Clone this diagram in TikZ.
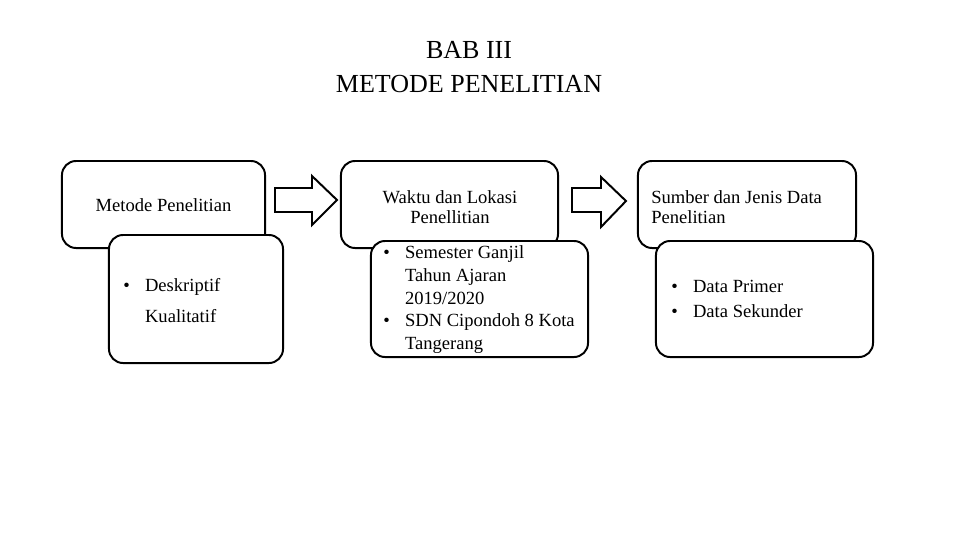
\documentclass[tikz,border=0pt]{standalone}
\usepackage{fontspec}
\setmainfont{Liberation Serif}
\newcommand{\dotitem}[1]{\makebox[15.5pt][l]{\textbullet}#1}
\newcommand{\nodotitem}[1]{\makebox[15.5pt][l]{}#1}
\newcommand{\itemlist}[1]{%
  \begin{tabular}{@{}l@{}}
    #1
  \end{tabular}
}
\begin{document}
\begin{tikzpicture}[
      x=0.025cm, y=-0.025cm,
      every node/.style={inner sep=0pt,font=\fontsize{13.2}{16.2}\selectfont},
      box/.style={draw,line width=1.4pt,rounded corners=10pt,fill=white},
      blockarrow/.style={draw,line width=1.4pt,line join=miter}
    ]
      \useasboundingbox (0,0) rectangle (960,540);

      % Title
      \node[align=center,font=\fontsize{18.5}{24}\selectfont] (title) at (469,67)
        {BAB III\\METODE PENELITIAN};

      % Upper boxes
      \node[box,minimum width=5.075cm,minimum height=2.175cm] (metode) at (163.5,204.5) {};
      \node[box,minimum width=5.425cm,minimum height=2.175cm] (waktu) at (449.5,204.5) {};
      \node[box,minimum width=5.45cm,minimum height=2.175cm] (sumber) at (747,204.5) {};

      % Lower boxes, drawn over the upper ones
      \node[box,minimum width=4.35cm,minimum height=3.2cm] (metodeisi) at (196,299) {};
      \node[box,minimum width=5.425cm,minimum height=2.9cm] (waktuisi) at (479.5,299) {};
      \node[box,minimum width=5.425cm,minimum height=2.9cm] (sumberisi) at (764.5,299) {};

      % Block arrows between the columns
      \draw[blockarrow] (275,188) -- (312,188) -- (312,176) -- (337,200)
        -- (312,225) -- (312,212) -- (275,212) -- cycle;
      \draw[blockarrow] (572,188) -- (601,188) -- (601,177) -- (626,201)
        -- (601,227) -- (601,212) -- (572,212) -- cycle;

      % Texts
      \node (metodetext) at (163.5,205) {Metode Penelitian};
      \node[align=center,font=\fontsize{13.2}{14.5}\selectfont] (waktutext) at (450,207)
        {Waktu dan Lokasi\\Penellitian};
      \node[anchor=west,align=left,font=\fontsize{13.2}{14.5}\selectfont] (sumbertext) at (651,207)
        {Sumber dan Jenis Data\\Penelitian};

      \node[anchor=west] (metodelist) at (123,302.5)
        {\itemlist{\dotitem{Deskriptif}\\[5.6pt] \nodotitem{Kualitatif}}};
      \node[anchor=west] (waktulist) at (383,299.5)
        {\itemlist{\dotitem{Semester Ganjil}\\ \nodotitem{Tahun Ajaran}\\
          \nodotitem{2019/2020}\\ \dotitem{SDN Cipondoh 8 Kota}\\ \nodotitem{Tangerang}}};
      \node[anchor=west] (sumberlist) at (671,300.5)
        {\itemlist{\dotitem{Data Primer}\\[1.6pt] \dotitem{Data Sekunder}}};
    \end{tikzpicture}
\end{document}
